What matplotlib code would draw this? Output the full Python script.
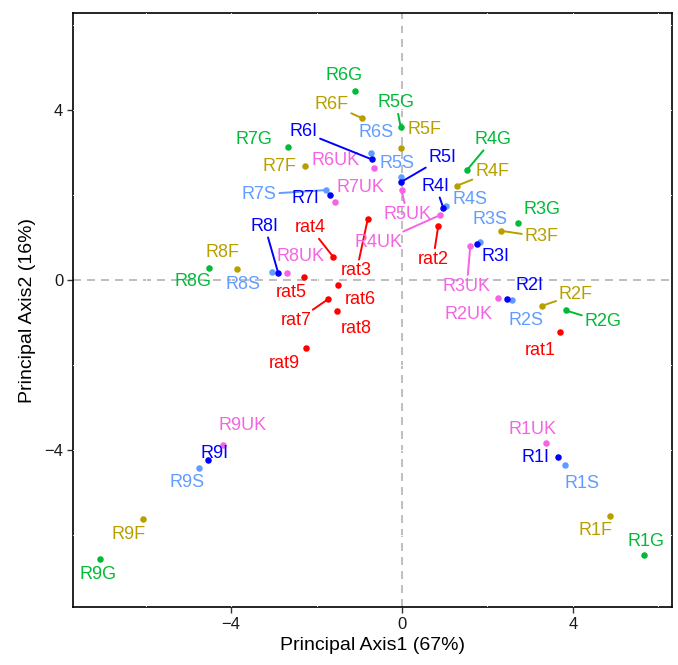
import matplotlib
matplotlib.use("Agg")
import matplotlib.pyplot as plt

plt.rcParams['font.family'] = ['Liberation Sans', 'DejaVu Sans']

# Point coordinates, grouped by series
rat_names = ['rat1', 'rat2', 'rat3', 'rat4', 'rat5', 'rat6', 'rat7', 'rat8', 'rat9']
rat_x = [3.70, 0.85, -0.80, -1.61, -2.29, -1.50, -1.72, -1.52, -2.25]
rat_y = [-1.22, 1.27, 1.44, 0.55, 0.07, -0.11, -0.44, -0.73, -1.59]

g_names = ['R1G', 'R2G', 'R3G', 'R4G', 'R5G', 'R6G', 'R7G', 'R8G', 'R9G']
g_x = [5.67, 3.83, 2.71, 1.52, -0.03, -1.10, -2.66, -4.52, -7.08]
g_y = [-6.47, -0.71, 1.35, 2.59, 3.61, 4.45, 3.13, 0.29, -6.57]

f_names = ['R1F', 'R2F', 'R3F', 'R4F', 'R5F', 'R6F', 'R7F', 'R8F', 'R9F']
f_x = [4.87, 3.29, 2.33, 1.28, -0.02, -0.93, -2.27, -3.87, -6.07]
f_y = [-5.55, -0.60, 1.16, 2.22, 3.10, 3.81, 2.68, 0.26, -5.63]

i_names = ['R1I', 'R2I', 'R3I', 'R4I', 'R5I', 'R6I', 'R7I', 'R8I', 'R9I']
i_x = [3.65, 2.45, 1.75, 0.97, -0.02, -0.70, -1.69, -2.90, -4.55]
i_y = [-4.16, -0.45, 0.86, 1.70, 2.31, 2.84, 2.01, 0.18, -4.22]

s_names = ['R1S', 'R2S', 'R3S', 'R4S', 'R5S', 'R6S', 'R7S', 'R8S', 'R9S']
s_x = [3.82, 2.57, 1.83, 1.03, -0.02, -0.73, -1.78, -3.04, -4.75]
s_y = [-4.34, -0.47, 0.90, 1.74, 2.43, 3.00, 2.12, 0.20, -4.41]

uk_names = ['R1UK', 'R2UK', 'R3UK', 'R4UK', 'R5UK', 'R6UK', 'R7UK', 'R8UK', 'R9UK']
uk_x = [3.37, 2.26, 1.60, 0.89, -0.01, -0.65, -1.57, -2.68, -4.18]
uk_y = [-3.83, -0.41, 0.80, 1.53, 2.13, 2.64, 1.85, 0.18, -3.88]

# label placement (repelled positions, data units)
label_pos = {
    'rat1': (3.23, -1.66), 'rat2': (0.73, 0.49), 'rat3': (-1.06, 0.22),
    'rat4': (-2.15, 1.24), 'rat5': (-2.58, -0.30), 'rat6': (-0.98, -0.45),
    'rat7': (-2.47, -0.96), 'rat8': (-1.06, -1.14), 'rat9': (-2.76, -1.95),
    'R1G': (5.71, -6.14), 'R2G': (4.71, -0.98), 'R3G': (3.27, 1.67),
    'R4G': (2.13, 3.32), 'R5G': (-0.14, 4.18), 'R6G': (-1.36, 4.81),
    'R7G': (-3.46, 3.32), 'R8G': (-4.89, -0.04), 'R9G': (-7.11, -6.92),
    'R1F': (4.52, -5.88), 'R2F': (4.07, -0.33), 'R3F': (3.27, 1.02),
    'R4F': (2.11, 2.55), 'R5F': (0.52, 3.55), 'R6F': (-1.65, 4.14),
    'R7F': (-2.87, 2.67), 'R8F': (-4.20, 0.64), 'R9F': (-6.39, -5.98),
    'R1I': (3.13, -4.17), 'R2I': (2.98, -0.12), 'R3I': (2.18, 0.55),
    'R4I': (0.79, 2.21), 'R5I': (0.95, 2.88), 'R6I': (-2.31, 3.49),
    'R7I': (-2.26, 1.92), 'R8I': (-3.21, 1.27), 'R9I': (-4.38, -4.08),
    'R1S': (4.22, -4.78), 'R2S': (2.90, -0.96), 'R3S': (2.06, 1.43),
    'R4S': (1.59, 1.90), 'R5S': (-0.12, 2.75), 'R6S': (-0.61, 3.48),
    'R7S': (-3.34, 2.02), 'R8S': (-3.72, -0.09), 'R9S': (-5.04, -4.75),
    'R1UK': (3.05, -3.51), 'R2UK': (1.57, -0.80), 'R3UK': (1.52, -0.14),
    'R4UK': (-0.56, 0.88), 'R5UK': (0.12, 1.55), 'R6UK': (-1.55, 2.82),
    'R7UK': (-0.98, 2.18), 'R8UK': (-2.37, 0.55), 'R9UK': (-3.74, -3.41),
}

# labels that get a connecting segment
with_segment = ['R6F', 'R5G', 'R6I', 'R5I', 'R4G', 'R4F', 'R7S', 'R4I',
                'R5UK', 'R4UK', 'rat2', 'rat3', 'rat4', 'R8I', 'rat7',
                'R3F', 'R3UK', 'R2F', 'R2G']

groups = [
    (rat_names, rat_x, rat_y, '#FF0000'),
    (g_names, g_x, g_y, '#00BA38'),
    (f_names, f_x, f_y, '#B79F00'),
    (uk_names, uk_x, uk_y, '#F564E3'),
    (s_names, s_x, s_y, '#619CFF'),
    (i_names, i_x, i_y, '#0000FF'),
]

fig = plt.figure(figsize=(6.78, 6.65), dpi=100)
ax = fig.add_axes([0.1077, 0.0872, 0.8833, 0.8928])

ax.axhline(0, color='#BEBEBE', lw=1.4, ls=(0, (4.1, 3.1)), zorder=0)
ax.axvline(0, color='#BEBEBE', lw=1.4, ls=(0, (4.1, 3.1)), zorder=0)

# faint white grid lines that break the panel border (as in the reference)
for v in [-6, -4, -2, 2, 4, 6]:
    ax.axvline(v, color='white', lw=0.6, zorder=2.6)
    ax.axhline(v, color='white', lw=0.6, zorder=2.6)

for names, xs, ys, col in groups:
    ax.scatter(xs, ys, s=22, color=col, zorder=3, linewidths=0)
    for name, x, y in zip(names, xs, ys):
        tx, ty = label_pos[name]
        arrow = None
        if name in with_segment:
            arrow = dict(arrowstyle='-', color=col, lw=1.4,
                         shrinkA=0, shrinkB=0)
        ax.annotate(name, xy=(x, y), xytext=(tx, ty), color=col,
                    fontsize=13, ha='center', va='center',
                    arrowprops=arrow, zorder=4)

ax.set_xlim(-7.70, 6.32)
ax.set_ylim(-7.69, 6.28)
ax.set_xticks([-4, 0, 4])
ax.set_yticks([-4, 0, 4])
ax.set_xticklabels(['\u22124', '0', '4'])
ax.set_yticklabels(['\u22124', '0', '4'])
ax.tick_params(labelsize=12, length=4, width=1, colors='#333333',
               labelcolor='#1a1a1a', pad=3)
for sp in ax.spines.values():
    sp.set_linewidth(1.2)
    sp.set_color('black')

ax.set_xlabel('Principal Axis1 (67%)', fontsize=14, labelpad=4)
ax.set_ylabel('Principal Axis2 (16%)', fontsize=14, labelpad=6)

fig.savefig('out.png', dpi=100)
